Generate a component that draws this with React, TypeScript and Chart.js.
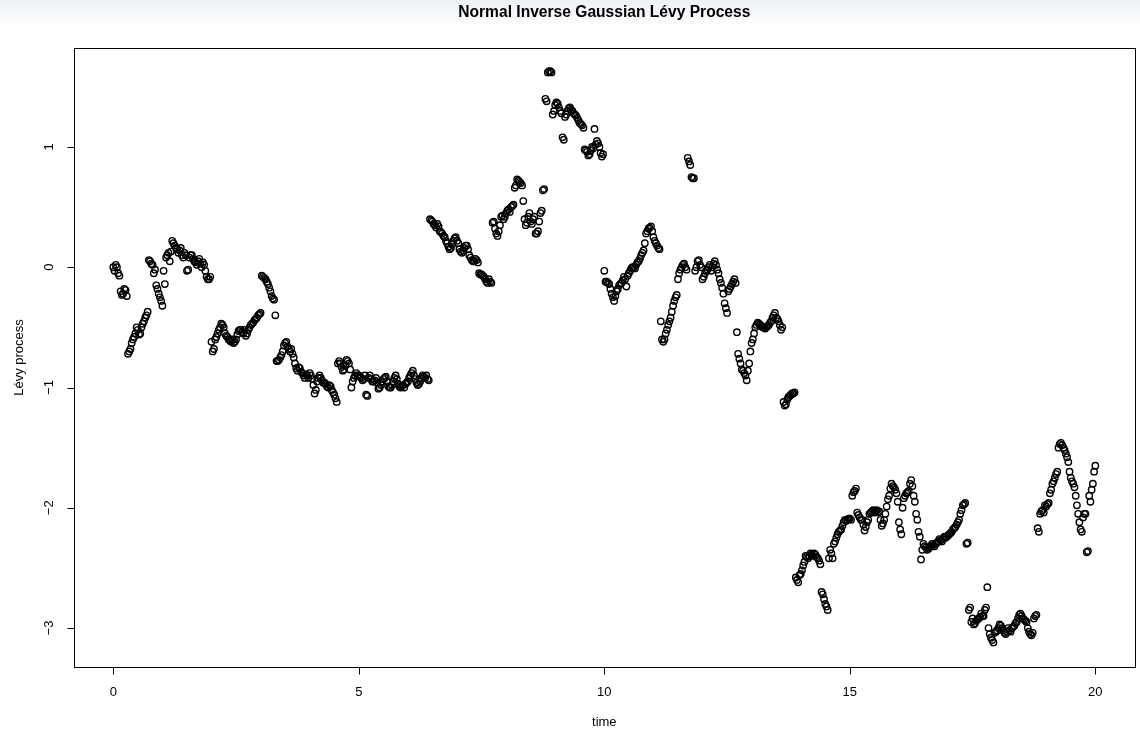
import { useEffect, useRef } from "react";
import { Chart, registerables } from "chart.js";

Chart.register(...registerables);

// Lévy process values. Main readings on a 0.05 time grid,
// plus a second set of readings taken half-way between them (offset 0.025).
const timeStep = 0.05;
const midOffset = 0.025;

const levyT0 = [
  0.0, 0.02, -0.05, -0.2, -0.22, -0.19, -0.72, -0.68, -0.6, -0.55,
  -0.52, -0.55, -0.47, -0.42, -0.37, 0.05, 0.02, -0.02, -0.18, -0.25,
  -0.32, -0.14, 0.1, 0.05, 0.22, 0.18, 0.15, 0.14, 0.1, 0.12,
  -0.03, 0.08, 0.1, 0.05, 0.02, 0.07, 0.0, 0.02, -0.08, -0.1,
  -0.62, -0.68, -0.58, -0.52, -0.47, -0.5, -0.57, -0.6, -0.62, -0.63,
  -0.6, -0.53, -0.52, -0.55, -0.57, -0.52, -0.48, -0.46, -0.43, -0.4,
  -0.38, -0.08, -0.1, -0.14, -0.2, -0.26, -0.4, -0.78, -0.75, -0.7,
  -0.63, -0.66, -0.7, -0.72, -0.8, -0.86, -0.84, -0.88, -0.92, -0.9,
  -0.88, -0.93, -1.05, -0.95, -0.9, -0.94, -0.96, -0.99, -0.98, -1.02,
  -1.06, -1.12, -0.78, -0.83, -0.85, -0.77, -0.8, -1.0, -0.92, -0.88,
];

const levyT5 = [
  -0.9, -0.92, -0.93, -1.06, -0.92, -0.93, -0.95, -0.92, -1.01, -0.98,
  -0.93, -0.91, -0.99, -1.0, -0.95, -0.9, -0.97, -1.0, -0.98, -0.97,
  -0.95, -0.9, -0.86, -0.93, -0.98, -0.95, -0.9, -0.92, -0.93, 0.4,
  0.38, 0.35, 0.36, 0.3, 0.28, 0.25, 0.2, 0.15, 0.19, 0.24,
  0.22, 0.15, 0.12, 0.16, 0.18, 0.1, 0.06, 0.05, 0.06, -0.05,
  -0.06, -0.08, -0.12, -0.1, -0.13, 0.38, 0.28, 0.3, 0.42, 0.4,
  0.45, 0.48, 0.5, 0.52, 0.68, 0.72, 0.7, 0.55, 0.35, 0.42,
  0.38, 0.4, 0.28, 0.3, 0.45, 0.64, 1.4, 1.62, 1.63, 1.27,
  1.35, 1.36, 1.3, 1.08, 1.25, 1.3, 1.33, 1.3, 1.27, 1.24,
  1.2, 1.18, 0.98, 0.96, 0.94, 1.0, 1.15, 1.05, 1.0, 0.92,
];

const levyT10 = [
  -0.03, -0.12, -0.14, -0.22, -0.28, -0.2, -0.15, -0.13, -0.08, -0.16,
  -0.05, -0.01, 0.0, 0.02, 0.05, 0.1, 0.14, 0.28, 0.32, 0.34,
  0.25, 0.2, 0.16, -0.45, -0.62, -0.55, -0.48, -0.42, -0.32, -0.25,
  -0.1, -0.02, 0.02, 0.0, 0.91, 0.85, 0.74, -0.03, 0.05, 0.02,
  -0.1, -0.05, -0.02, 0.02, 0.0, 0.05, -0.02, -0.1, -0.17, -0.3,
  -0.38, -0.18, -0.14, -0.1, -0.54, -0.76, -0.85, -0.88, -0.94, -0.8,
  -0.63, -0.55, -0.48, -0.47, -0.49, -0.5, -0.5, -0.48, -0.45, -0.4,
  -0.42, -0.45, -0.52, -1.12, -1.14, -1.08, -1.06, -1.05, -2.58, -2.62,
  -2.55, -2.48, -2.4, -2.42, -2.38, -2.4, -2.39, -2.42, -2.47, -2.72,
  -2.8, -2.85, -2.35, -2.42, -2.28, -2.22, -2.19, -2.15, -2.1, -2.1,
];

const levyT15 = [
  -2.09, -1.9, -1.86, -2.04, -2.08, -2.1, -2.19, -2.12, -2.05, -2.03,
  -2.04, -2.02, -2.03, -2.15, -2.1, -1.99, -1.9, -1.8, -1.83, -1.88,
  -2.12, -2.22, -1.92, -1.88, -1.86, -1.77, -1.9, -2.05, -2.2, -2.43,
  -2.3, -2.33, -2.34, -2.32, -2.31, -2.3, -2.28, -2.27, -2.26, -2.25,
  -2.23, -2.21, -2.18, -2.16, -2.12, -2.05, -1.98, -1.96, -2.29, -2.83,
  -2.92, -2.96, -2.93, -2.91, -2.9, -2.85, -2.66, -3.05, -3.1, -3.04,
  -3.02, -2.97, -3.0, -3.04, -3.03, -3.02, -3.0, -2.98, -2.95, -2.89,
  -2.9, -2.93, -2.95, -3.03, -3.06, -2.92, -2.89, -2.2, -2.03, -2.04,
  -1.99, -1.96, -1.85, -1.78, -1.72, -1.5, -1.46, -1.5, -1.55, -1.62,
  -1.75, -1.8, -1.9, -2.05, -2.18, -2.08, -2.05, -2.36, -1.95, -1.8,
  -1.65,
];

const levyMidT0 = [
  -0.03, 0.0, -0.07, -0.23, -0.18, -0.24, -0.7, -0.63, -0.58, -0.5,
  -0.56, -0.5, -0.45, -0.4, 0.06, 0.03, -0.05, -0.15, -0.22, -0.28,
  -0.03, 0.08, 0.12, 0.13, 0.2, 0.16, 0.12, 0.16, 0.08, 0.1,
  -0.02, 0.1, 0.07, 0.04, 0.05, 0.03, 0.04, -0.03, -0.1, -0.08,
  -0.7, -0.6, -0.55, -0.5, -0.48, -0.55, -0.58, -0.61, -0.6, -0.62,
  -0.56, -0.52, -0.54, -0.52, -0.55, -0.5, -0.47, -0.44, -0.42, -0.39,
  -0.07, -0.09, -0.12, -0.17, -0.24, -0.27, -0.78, -0.77, -0.73, -0.65,
  -0.62, -0.68, -0.68, -0.75, -0.84, -0.83, -0.87, -0.9, -0.89, -0.92,
  -0.9, -0.98, -1.02, -0.92, -0.92, -0.96, -0.97, -1.0, -0.99, -1.04,
  -1.09, -0.8, -0.8, -0.86, -0.82, -0.78, -0.85, -0.95, -0.9, -0.9,
];

const levyMidT5 = [
  -0.91, -0.94, -0.9, -1.07, -0.9, -0.95, -0.94, -0.96, -1.0, -0.95,
  -0.92, -0.95, -1.0, -0.98, -0.92, -0.93, -0.99, -0.99, -1.0, -0.96,
  -0.92, -0.88, -0.9, -0.96, -0.97, -0.92, -0.91, -0.9, -0.94, 0.39,
  0.36, 0.33, 0.34, 0.29, 0.26, 0.22, 0.17, 0.16, 0.22, 0.25,
  0.2, 0.13, 0.14, 0.18, 0.15, 0.08, 0.05, 0.07, 0.04, -0.06,
  -0.07, -0.1, -0.13, -0.12, 0.37, 0.32, 0.26, 0.35, 0.43, 0.42,
  0.47, 0.46, 0.51, 0.66, 0.73, 0.71, 0.68, 0.4, 0.37, 0.45,
  0.36, 0.42, 0.28, 0.38, 0.47, 0.65, 1.38, 1.63, 1.62, 1.3,
  1.37, 1.33, 1.28, 1.06, 1.27, 1.32, 1.31, 1.28, 1.26, 1.22,
  1.19, 1.16, 0.97, 0.93, 0.97, 0.99, 1.02, 1.03, 0.95, 0.94,
];

const levyMidT10 = [
  -0.12, -0.13, -0.18, -0.25, -0.24, -0.18, -0.14, -0.11, -0.1, -0.07,
  -0.03, 0.0, -0.01, 0.04, 0.07, 0.12, 0.2, 0.3, 0.33, 0.3,
  0.22, 0.18, 0.15, -0.6, -0.6, -0.52, -0.45, -0.37, -0.28, -0.23,
  -0.05, 0.0, 0.03, -0.02, 0.88, 0.75, 0.74, 0.0, 0.06, 0.0,
  -0.08, -0.03, 0.0, -0.03, 0.03, 0.02, -0.05, -0.13, -0.22, -0.34,
  -0.2, -0.16, -0.12, -0.13, -0.72, -0.8, -0.86, -0.9, -0.86, -0.7,
  -0.6, -0.5, -0.46, -0.48, -0.5, -0.51, -0.49, -0.46, -0.42, -0.38,
  -0.43, -0.48, -0.5, -1.15, -1.1, -1.07, -1.05, -1.04, -2.6, -2.56,
  -2.52, -2.45, -2.41, -2.4, -2.39, -2.38, -2.41, -2.44, -2.7, -2.76,
  -2.82, -2.42, -2.38, -2.3, -2.25, -2.2, -2.18, -2.12, -2.11, -2.09,
];

const levyMidT15 = [
  -2.1, -1.87, -1.84, -2.06, -2.1, -2.14, -2.16, -2.1, -2.04, -2.02,
  -2.03, -2.04, -2.1, -2.13, -2.05, -1.93, -1.84, -1.82, -1.85, -1.95,
  -2.18, -2.0, -1.9, -1.87, -1.8, -1.82, -1.95, -2.1, -2.24, -2.35,
  -2.32, -2.35, -2.33, -2.3, -2.32, -2.29, -2.26, -2.28, -2.24, -2.24,
  -2.22, -2.2, -2.17, -2.14, -2.1, -2.02, -1.97, -2.3, -2.85, -2.95,
  -2.97, -2.94, -2.92, -2.88, -2.9, -2.83, -3.0, -3.08, -3.12, -3.03,
  -3.0, -2.98, -3.02, -3.05, -3.0, -3.03, -2.99, -2.96, -2.92, -2.88,
  -2.92, -2.94, -3.0, -3.05, -3.04, -2.9, -2.17, -2.05, -2.02, -1.98,
  -1.97, -1.88, -1.8, -1.75, -1.7, -1.47, -1.48, -1.52, -1.58, -1.7,
  -1.78, -1.83, -1.98, -2.12, -2.2, -2.05, -2.37, -1.9, -1.85, -1.7,
];

const segments: { start: number; values: number[] }[] = [
  { start: 0, values: levyT0 },
  { start: 5, values: levyT5 },
  { start: 10, values: levyT10 },
  { start: 15, values: levyT15 },
  { start: 0 + midOffset, values: levyMidT0 },
  { start: 5 + midOffset, values: levyMidT5 },
  { start: 10 + midOffset, values: levyMidT10 },
  { start: 15 + midOffset, values: levyMidT15 },
];

const xTicks = [0, 5, 10, 15, 20];
const yTicks = [-3, -2, -1, 0, 1];

const titleText = "Normal Inverse Gaussian Lévy Process";
const xLabel = "time";
const yLabel = "Lévy process";

const FONT = "'Liberation Sans', Arial, Helvetica, sans-serif";

export default function App() {
  const ref = useRef<HTMLCanvasElement | null>(null);

  useEffect(() => {
    document.body.style.margin = "0";
    const canvas = ref.current;
    if (!canvas) return;

    const points: { x: number; y: number }[] = [];
    segments.forEach((s) => {
      s.values.forEach((v, i) => {
        points.push({ x: Math.round((s.start + i * timeStep) * 1000) / 1000, y: v });
      });
    });

    const framePlugin = {
      id: "rframe",
      afterDraw(chart: any) {
        const { ctx, chartArea, scales } = chart;
        const xs = scales.x;
        const ys = scales.y;
        ctx.save();
        ctx.strokeStyle = "#000";
        ctx.fillStyle = "#000";
        ctx.lineWidth = 1;
        ctx.strokeRect(
          Math.round(chartArea.left) + 0.5,
          Math.round(chartArea.top) + 0.5,
          Math.round(chartArea.right - chartArea.left),
          Math.round(chartArea.bottom - chartArea.top)
        );
        const by = Math.round(chartArea.bottom) + 0.5;
        const lx = Math.round(chartArea.left) + 0.5;
        ctx.beginPath();
        xTicks.forEach((t) => {
          const px = Math.round(xs.getPixelForValue(t)) + 0.5;
          ctx.moveTo(px, by);
          ctx.lineTo(px, by + 7);
        });
        ctx.stroke();
        ctx.font = `13px ${FONT}`;
        ctx.textAlign = "center";
        ctx.textBaseline = "middle";
        xTicks.forEach((t) => {
          ctx.fillText(String(t), xs.getPixelForValue(t), 692);
        });
        ctx.beginPath();
        yTicks.forEach((t) => {
          const py = Math.round(ys.getPixelForValue(t)) + 0.5;
          ctx.moveTo(lx, py);
          ctx.lineTo(lx - 7, py);
        });
        ctx.stroke();
        yTicks.forEach((t) => {
          const py = ys.getPixelForValue(t);
          ctx.save();
          ctx.translate(49, py);
          ctx.rotate(-Math.PI / 2);
          ctx.fillText(t < 0 ? "\u2212" + Math.abs(t) : String(t), 0, 0);
          ctx.restore();
        });
        ctx.fillText(xLabel, (chartArea.left + chartArea.right) / 2, 722);
        ctx.save();
        ctx.translate(19, (chartArea.top + chartArea.bottom) / 2);
        ctx.rotate(-Math.PI / 2);
        ctx.fillText(yLabel, 0, 0);
        ctx.restore();
        ctx.font = `bold 15.6px ${FONT}`;
        ctx.fillText(titleText, (chartArea.left + chartArea.right) / 2, 13);
        ctx.restore();
      },
    };

    const chart = new Chart(canvas, {
      type: "scatter",
      data: {
        datasets: [
          {
            data: points,
            pointStyle: "circle",
            pointRadius: 3.2,
            pointBorderWidth: 1.4,
            pointBorderColor: "#000",
            pointBackgroundColor: "rgba(0,0,0,0)",
            showLine: false,
          },
        ],
      },
      options: {
        animation: false,
        responsive: false,
        maintainAspectRatio: false,
        layout: { padding: { left: 74, right: 3, top: 48, bottom: 63 } },
        plugins: { legend: { display: false }, tooltip: { enabled: false }, title: { display: false } },
        scales: {
          x: { type: "linear", min: -0.8, max: 20.8, display: false },
          y: { type: "linear", min: -3.324, max: 1.823, display: false },
        },
      },
      plugins: [framePlugin],
    });
    return () => chart.destroy();
  }, []);

  return (
    <div style={{ position: "relative", width: 1140, height: 730, background: "#fff" }}>
      <div
        style={{
          position: "absolute",
          left: 0,
          top: 0,
          width: 1140,
          height: 27,
          background: "linear-gradient(#edf1f7, #ffffff)",
        }}
      />
      <canvas ref={ref} width={1140} height={730} style={{ position: "absolute", left: 0, top: 0 }} />
    </div>
  );
}
